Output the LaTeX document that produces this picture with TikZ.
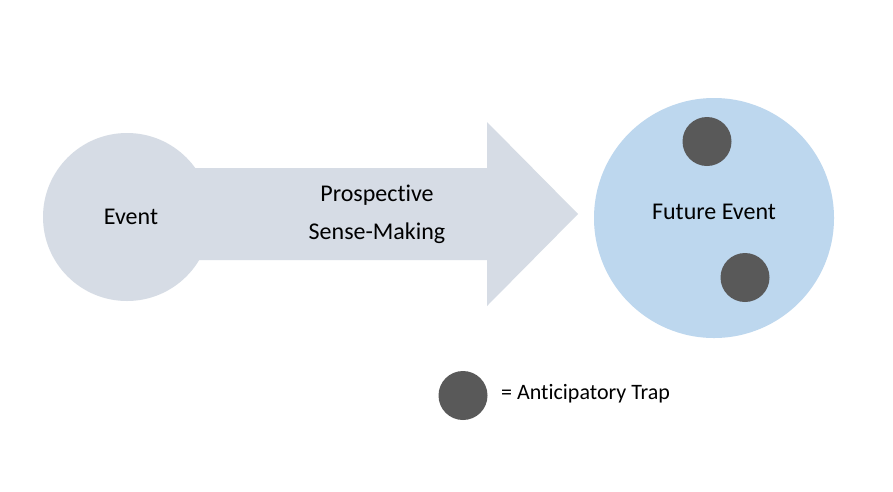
\documentclass[tikz,border=0pt]{standalone}
\usepackage{fontspec}
\setmainfont{Carlito}[Ligatures=NoCommon]
\definecolor{evgray}{HTML}{D6DCE5}
\definecolor{futblue}{HTML}{BDD7EE}
\definecolor{trapgray}{HTML}{595959}
\begin{document}
\begin{tikzpicture}[x=1pt,y=-1pt,
  lbl/.style={font=\fontsize{24}{38}\selectfont, text=black, align=center, inner sep=0pt},
  trap/.style={circle, fill=trapgray, minimum size=49pt, inner sep=0pt}]
\useasboundingbox[fill=white] (0,0) rectangle (893,491);
% event circle
\node[circle, fill=evgray, minimum size=168pt, inner sep=0pt] (event) at (127,217) {};
% arrow
\fill[evgray] (190,168) -- (487,168) -- (487,122) -- (578,214) -- (487,306) -- (487,260) -- (190,260) -- cycle;
\coordinate (tip) at (578,214);
% future event circle
\node[circle, fill=futblue, minimum size=240pt, inner sep=0pt] (future) at (714,218) {};
\node[trap] (trap1) at (707,141.5) {};
\node[trap] (trap2) at (745,277.5) {};
% labels
\node[lbl] (eventlbl) at (131,217) {Event};
\node[lbl] (pros) at (377,214) {Prospective\\Sense-Making};
\node[lbl] (futlbl) at (714,212) {Future Event};
% legend
\node[trap] (legdot) at (463,395.5) {};
\node[lbl, font=\fontsize{22}{26}\selectfont, anchor=west] (legtxt) at (501,394) {= Anticipatory Trap};
\end{tikzpicture}
\end{document}
